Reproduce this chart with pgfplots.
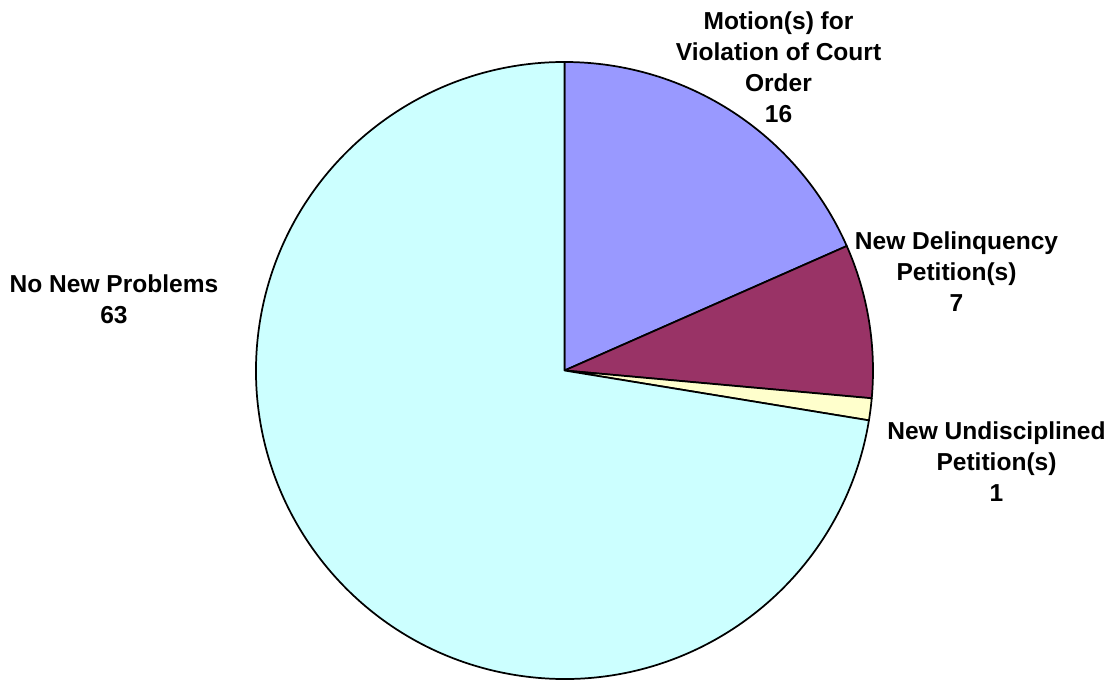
\documentclass[border=0pt]{standalone}
\usepackage{pgfplots}
\pgfplotsset{compat=1.18}
\usepackage{fontspec}
\setmainfont{Liberation Sans}
\definecolor{cmotion}{HTML}{9999FF}
\definecolor{cdelin}{HTML}{993366}
\definecolor{cundis}{HTML}{FFFFCC}
\definecolor{cnone}{HTML}{CCFFFF}
\begin{document}
\begin{tikzpicture}
\begin{axis}[name=ax, scale only axis, width=835.5pt, height=510pt,
  xmin=0, xmax=1114, ymin=0, ymax=680, hide axis, clip=false]
\pgfmathsetmacro\total{16+7+1+63}
\xdef\cum{0}
\foreach \v/\c in {16/cmotion,7/cdelin,1/cundis,63/cnone}{
  \pgfmathsetmacro\a{90-\cum/\total*360}
  \pgfmathsetmacro\newcum{\cum+\v}
  \xdef\cum{\newcum}
  \pgfmathsetmacro\b{90-\cum/\total*360}
  \edef\temp{\noexpand\filldraw[fill=\c,draw=black,line width=1.3pt,line join=round] (axis cs:564.5,309.5) -- ++(\a:231.375pt) arc[start angle=\a,end angle=\b,radius=231.375pt] -- cycle;}
  \temp
}
\tikzset{lbl/.style={align=center, font=\bfseries\fontsize{18.4}{23.25}\selectfont}}
\node[lbl] at (axis cs:778.5,613) {Motion(s) for\\Violation of Court\\Order\\16};
\node[lbl] at (axis cs:956.5,408) {New Delinquency\\Petition(s)\\7};
\node[lbl] at (axis cs:996.5,218) {New Undisciplined\\Petition(s)\\1};
\node[lbl] at (axis cs:114,380.5) {No New Problems\\63};
\end{axis}
\pgfresetboundingbox
\path (ax.south west) rectangle (ax.north east);
\end{tikzpicture}
\end{document}
